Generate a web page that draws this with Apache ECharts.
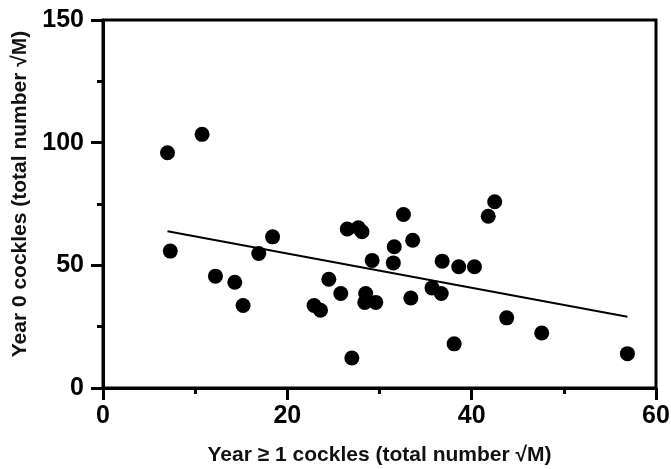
<!DOCTYPE html>
<html>
<head>
<meta charset="utf-8">
<script src="https://cdn.jsdelivr.net/npm/echarts@6/dist/echarts.min.js"></script>
<style>
  html, body { margin: 0; padding: 0; background: #fff; }
  #main { width: 671px; height: 469px; }
</style>
</head>
<body>
<div id="main"></div>
<script>
// year >= 1 cockles (x) vs year 0 cockles (y)
const olderCockles = [7.0, 10.75, 7.3, 12.2, 14.3, 15.2, 16.9, 18.4, 22.9, 23.6, 24.5, 25.8,
  27.0, 26.5, 27.7, 28.1, 28.5, 28.4, 29.6, 29.2, 31.5, 31.6, 32.6, 33.6, 33.4, 35.7,
  36.7, 36.8, 38.1, 38.6, 40.3, 41.8, 42.5, 43.8, 47.6, 56.9];
const youngCockles = [95.9, 103.4, 55.8, 45.6, 43.1, 33.6, 54.8, 61.6, 33.6, 31.7, 44.3, 38.5,
  12.2, 64.8, 65.3, 63.7, 38.5, 34.9, 34.9, 52.0, 51.0, 57.6, 70.7, 60.2, 36.7, 40.8,
  38.5, 51.7, 18.0, 49.4, 49.4, 70.0, 75.9, 28.6, 22.4, 14.0];

// fitted regression line end points
const fitX = [7.0, 56.9];
const fitY = [63.9, 29.0];

const xTitle = "Year \u2265 1 cockles (total number \u221AM)";
const yTitle = "Year 0 cockles (total number \u221AM)";

const font = "'Liberation Sans', Arial, sans-serif";

const myChart = echarts.init(document.getElementById("main"));

const axisCommon = {
  type: "value",
  nameLocation: "middle",
  nameTextStyle: { fontFamily: font, fontSize: 21, fontWeight: "bold", color: "#111" },
  axisLine: { show: true, lineStyle: { color: "#000", width: 3 } },
  axisTick: { show: true, inside: false, length: 12, lineStyle: { color: "#000", width: 3 } },
  minorTick: { show: true, splitNumber: 2, length: 6, lineStyle: { color: "#000", width: 3 } },
  splitLine: { show: false },
};

const labelStyle = { fontFamily: font, fontSize: 25, fontWeight: "bold", color: "#000" };

myChart.setOption({
  animation: false,
  grid: {
    left: 103,
    right: 15,
    top: 20,
    bottom: 81,
    outerBoundsMode: "none",
    show: true,
    borderColor: "#000",
    borderWidth: 3,
  },
  xAxis: {
    ...axisCommon,
    min: 0,
    max: 60,
    interval: 20,
    name: xTitle,
    nameGap: 57,
    axisLabel: { ...labelStyle, margin: 16 },
  },
  yAxis: {
    ...axisCommon,
    min: 0,
    max: 150,
    interval: 50,
    name: yTitle,
    nameGap: 72,
    nameTextStyle: { ...axisCommon.nameTextStyle, padding: [0, 0, 0, 20] },
    axisLabel: { ...labelStyle, margin: 19 },
  },
  series: [
    {
      type: "scatter",
      symbol: "circle",
      symbolSize: 15,
      itemStyle: { color: "#000", opacity: 1 },
      data: olderCockles.map((x, i) => [x, youngCockles[i]]),
      z: 3,
    },
    {
      type: "line",
      showSymbol: false,
      lineStyle: { color: "#000", width: 2 },
      data: fitX.map((x, i) => [x, fitY[i]]),
      z: 2,
    },
  ],
});
</script>
</body>
</html>
